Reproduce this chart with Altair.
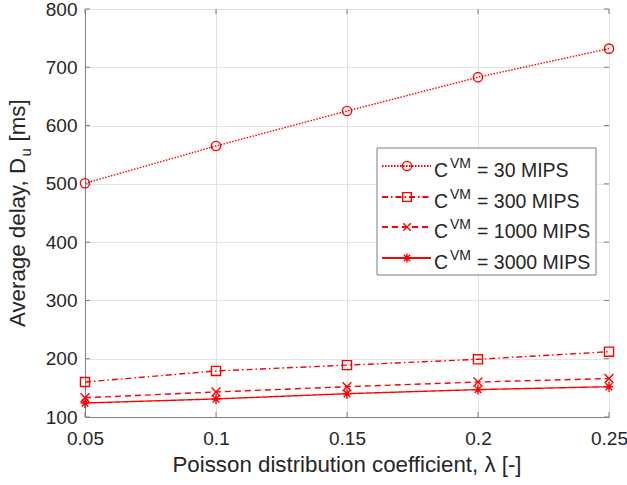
import altair as alt
import pandas as pd

# ---- data ----
lam = [0.05, 0.10, 0.15, 0.20, 0.25]
d30 = [501, 565, 625, 683, 732]
d300 = [160, 179, 189, 199, 212]
d1000 = [133, 143, 152, 160, 166]
d3000 = [124, 131, 140, 147, 152]

series_names = ["30 MIPS", "300 MIPS", "1000 MIPS", "3000 MIPS"]
series_vals = [d30, d300, d1000, d3000]
y_ticks = [100, 200, 300, 400, 500, 600, 700, 800]

RED = "#ff0000"
FONT = "Liberation Sans"
TXT = "#262626"
AX = "#7f7f7f"
W, H = 524, 408

dashes = [[1.5, 1.5], [6, 3, 1.5, 3], [6, 4], [1, 0]]
X_PATH = "M-1,-1L1,1M-1,1L1,-1"
AST_PATH = "M-1,0L1,0M0,-1.15L0,1.15M-0.75,-0.8L0.75,0.8M-0.75,0.8L0.75,-0.8"
shapes = ["circle", "square", X_PATH, AST_PATH]
sizes = [86, 76, 56, 64]

rows = []
for name, vals in zip(series_names, series_vals):
    for l, v in zip(lam, vals):
        rows.append({"lam": l, "delay": v, "series": name})
df = pd.DataFrame(rows)

xscale = alt.Scale(domain=[0.05, 0.25], nice=False, zero=False)
yscale = alt.Scale(domain=[100, 800], nice=False, zero=False)

xenc = alt.X("lam:Q", scale=xscale, title="",
             axis=alt.Axis(values=lam, format="~g", grid=True, ticks=False,
                           labelPadding=12, labelFontSize=19, labelColor=TXT,
                           labelFont=FONT, domainColor=AX, gridColor="#e3e3e3",
                           labelFlush=False))
yenc = alt.Y("delay:Q", scale=yscale, title="",
             axis=alt.Axis(values=y_ticks, format="d", grid=True, ticks=False,
                           labelPadding=8, labelFontSize=19, labelColor=TXT,
                           labelFont=FONT, domainColor=AX, gridColor="#e3e3e3",
                           labelFlush=False))

dash_scale = alt.Scale(domain=series_names, range=dashes)
shape_scale = alt.Scale(domain=series_names, range=shapes)
size_scale = alt.Scale(domain=series_names, range=sizes)

base = alt.Chart(df)
lines = base.mark_line(strokeWidth=1.4).encode(
    x=xenc, y=yenc,
    color=alt.value(RED),
    strokeDash=alt.StrokeDash("series:N", scale=dash_scale, legend=None),
    detail="series:N",
)
points = base.mark_point(filled=False, strokeWidth=1.4, opacity=1).encode(
    x=alt.X("lam:Q", scale=xscale),
    y=alt.Y("delay:Q", scale=yscale),
    color=alt.value(RED),
    shape=alt.Shape("series:N", scale=shape_scale, legend=None),
    size=alt.Size("series:N", scale=size_scale, legend=None),
)

# inward ticks on all four sides
xt = pd.DataFrame({"lam": lam})
yt = pd.DataFrame({"delay": y_ticks})
tick_layers = []
for y0, y1 in [(H, H - 5), (0, 5)]:
    tick_layers.append(alt.Chart(xt).mark_rule(strokeWidth=1).encode(
        x=alt.X("lam:Q", scale=xscale), y=alt.value(y0), y2=alt.value(y1),
        color=alt.value(AX)))
for x0, x1 in [(0, 5), (W, W - 5)]:
    tick_layers.append(alt.Chart(yt).mark_rule(strokeWidth=1).encode(
        y=alt.Y("delay:Q", scale=yscale), x=alt.value(x0), x2=alt.value(x1),
        color=alt.value(AX)))

one = pd.DataFrame({"k": [0]})


def txt(text, x, y, size, angle=0, align="left", baseline="alphabetic", color=TXT):
    kw = dict(fontSize=size, font=FONT, align=align, baseline=baseline)
    if angle:
        kw["angle"] = angle
    return alt.Chart(one).mark_text(**kw).encode(
        x=alt.value(x), y=alt.value(y), text=alt.value(text), color=alt.value(color))


# axis titles
deco = []
deco.append(txt("Poisson distribution coefficient, λ [-]", W / 2, 463, 22.3, align="center"))
yb = 318
deco.append(txt("Average delay, D", -60, yb, 22.3, angle=270))
deco.append(txt("u", -54, yb - 170.5, 15, angle=270))
deco.append(txt("[ms]", -60, yb - 185.5, 22.3, angle=270))

# legend box
lx0, lx1, ly0, ly1 = 292, 511, 139, 266
deco.append(alt.Chart(one).mark_rect(strokeWidth=1).encode(
    x=alt.value(lx0), x2=alt.value(lx1), y=alt.value(ly0), y2=alt.value(ly1),
    fill=alt.value("white"), stroke=alt.value(AX)))
row_y = [157, 188, 218, 249]
for i, name in enumerate(series_names):
    ym = row_y[i]
    deco.append(alt.Chart(one).mark_rule(strokeWidth=1.9, strokeDash=dashes[i]).encode(
        x=alt.value(297), x2=alt.value(346), y=alt.value(ym),
        color=alt.value(RED)))
    deco.append(alt.Chart(one).mark_point(shape=shapes[i], size=sizes[i], filled=False,
                                          strokeWidth=1.4, opacity=1).encode(
        x=alt.value(322), y=alt.value(ym), color=alt.value(RED)))
    deco.append(txt("C", 349, ym + 11, 19.5))
    deco.append(txt("VM", 365, ym + 1.5, 14))
    deco.append(txt("= " + name, 392, ym + 11, 19.5))

chart = alt.layer(lines, points, *tick_layers, *deco).properties(
    width=W, height=H,
    autosize=alt.AutoSizeParams(type="none"),
    padding={"left": 85, "top": 9, "right": 627 - 85 - W, "bottom": 485 - 9 - H},
).configure_view(stroke=AX, strokeWidth=1).configure(background="white")

chart.save("out.html", embed_options={"renderer": "svg", "actions": False})
